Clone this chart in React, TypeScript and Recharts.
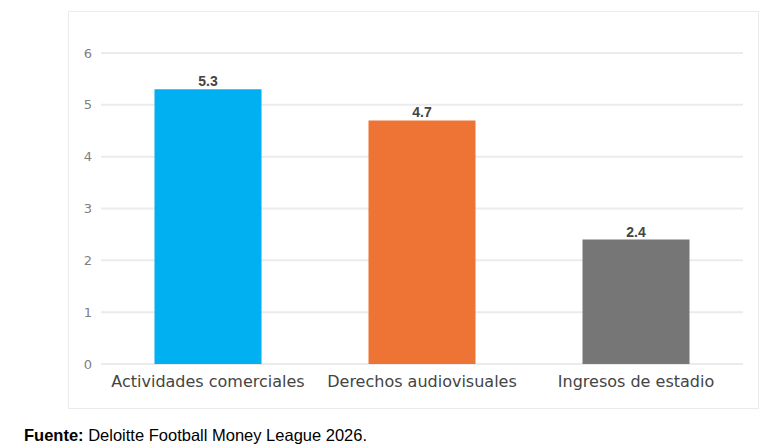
import React from 'react'
import { BarChart, Bar, XAxis, YAxis, CartesianGrid, LabelList, Cell } from 'recharts'

const categories = ['Actividades comerciales', 'Derechos audiovisuales', 'Ingresos de estadio']
const values = [5.3, 4.7, 2.4]
const colors = ['#00B0F0', '#ED7434', '#767676']
const yTicks = [0, 1, 2, 3, 4, 5, 6]

const data = categories.map((name, i) => ({ name, value: values[i] }))

export default function App() {
  return (
    <div style={{ position: 'absolute', left: 0, top: 0, width: 777, height: 447, background: '#fff' }}>
      <div
        style={{
          position: 'absolute',
          left: 68,
          top: 11,
          width: 689,
          height: 396,
          border: '1px solid #ebebeb',
        }}
      />
      <div style={{ position: 'absolute', left: 0, top: 0 }}>
        <BarChart
          width={777}
          height={447}
          data={data}
          margin={{ top: 53, right: 34, left: 71, bottom: 53 }}
          barCategoryGap="25%"
        >
          <CartesianGrid vertical={false} stroke="#ebebeb" strokeWidth={2} />
          <XAxis
            dataKey="name"
            axisLine={false}
            tickLine={false}
            tickSize={0}
            tickMargin={12}
            height={30}
            interval={0}
            tick={{ fill: '#444', fontSize: 16, fontFamily: 'DejaVu Sans' }}
          />
          <YAxis
            domain={[0, 6]}
            ticks={yTicks}
            width={30}
            axisLine={false}
            tickLine={false}
            tickSize={0}
            tickMargin={9}
            tick={{ fill: '#808080', fontSize: 13, fontFamily: 'DejaVu Sans' }}
          />
          <Bar dataKey="value" isAnimationActive={false}>
            {data.map((d, i) => (
              <Cell key={d.name} fill={colors[i]} />
            ))}
            <LabelList
              dataKey="value"
              position="top"
              offset={3}
              style={{ fill: '#444', fontSize: 14, fontWeight: 'bold', fontFamily: 'Liberation Sans' }}
            />
          </Bar>
        </BarChart>
      </div>
      <div
        style={{
          position: 'absolute',
          left: 24,
          top: 426,
          fontFamily: 'Liberation Sans, Arial, sans-serif',
          fontSize: 16.5,
          color: '#000',
          whiteSpace: 'nowrap',
        }}
      >
        <b>Fuente:</b> Deloitte Football Money League 2026.
      </div>
    </div>
  )
}
